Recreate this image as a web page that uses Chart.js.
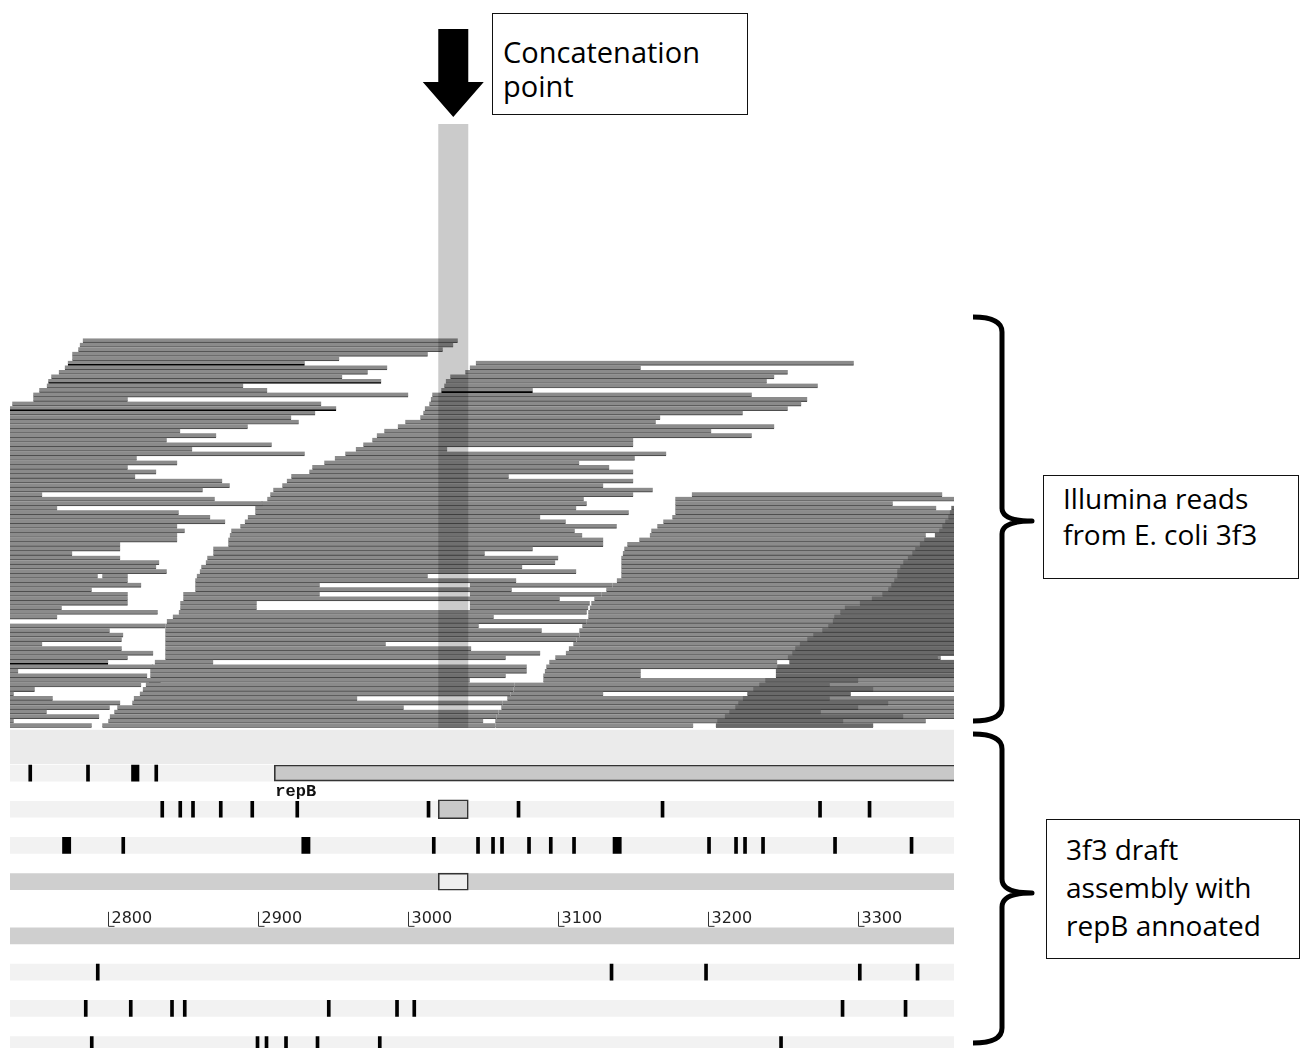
<!DOCTYPE html>
<html>
<head>
<meta charset="utf-8">
<title>repB region – read pileup and draft assembly</title>
<script src="https://cdn.jsdelivr.net/npm/chart.js@4.4.1/dist/chart.umd.min.js"></script>
<style>
  html, body { margin: 0; padding: 0; background: #fff; width: 1305px; height: 1048px; overflow: hidden; }
  #stage { position: relative; width: 1305px; height: 1048px; overflow: hidden; }
  #stage canvas { position: absolute; left: 0; top: 0; }
  #stage svg { position: absolute; left: 0; top: 0; }
  .note {
    position: absolute; box-sizing: border-box; background: #fff;
    border: 1px solid #111; color: #000; white-space: nowrap;
    font-family: "Open Sans", "DejaVu Sans", sans-serif; font-size: 29px; line-height: 33.5px;
    padding-left: 10px;
  }
  .note.side { font-size: 28px; padding-left: 19px; }
</style>
</head>
<body>
<div id="stage">
  <canvas id="view" width="1305" height="1062"></canvas>
  <svg width="1305" height="1048" viewBox="0 0 1305 1048">
    <path d="M 973 317 Q 1002 317 1002 332 L 1002 508 Q 1002 521 1032 521 Q 1002 521 1002 534 L 1002 706 Q 1002 721 973 721"
          fill="none" stroke="#000" stroke-width="5" stroke-linejoin="round"/>
    <path d="M 973 734 Q 1002 734 1002 749 L 1002 879 Q 1002 893 1032 893 Q 1002 893 1002 907 L 1002 1028 Q 1002 1043 973 1043"
          fill="none" stroke="#000" stroke-width="5" stroke-linejoin="round"/>
  </svg>
  <div class="note" style="left:492px; top:13px; width:256px; height:102px; padding-top:21px;">Concatenation<br>point</div>
  <div class="note side" style="left:1043px; top:475px; width:256px; height:104px; padding-top:4px; line-height:36px;">Illumina reads<br>from E. coli 3f3</div>
  <div class="note side" style="left:1046px; top:819px; width:254px; height:140px; padding-top:10px; line-height:38px;">3f3 draft<br>assembly with<br>repB annoated</div>
</div>

<script>
// ---- coordinates (bp) ------------------------------------------------------
const viewRange = [2734.5, 3363.8];
const rulerTicks = [2800, 2900, 3000, 3100, 3200, 3300];
const concatRegion = [3020, 3040];

// ---- read pileup: one [start, end] per packed row (null = empty) ---------
const readsA = [
  [2783,3033],[2781,3030],[2780,3023],[2776,3013],[2776,2954],
  null,[2771,2986],[2767,2973],[2762,2956],null,
  [2759,2890],[2754,2906],[2750,3000],[2750,2813],[2736,2942],
  null,[2700,2938],[2700,2922],[2700,2927],[2700,2893],
  [2700,2848],[2700,2872],[2700,2839],[2700,2909],[2700,2856],
  [2700,2931],[2700,2819],[2700,2846],[2700,2813],[2700,2832],
  [2700,2818],[2700,2876],[2700,2881],[2700,2863],[2700,2756],
  [2700,2871],[2700,2903],[2700,2766],[2700,2847],[2700,2868],
  [2700,2878],[2700,2846],[2700,2851],[2700,2846],[2700,2846],
  [2700,2808],[2700,2808],[2700,2776],[2700,2808],[2700,2834],
  [2700,2832],[2700,2839],[2700,2793],[2700,2813],[2700,2822],
  [2700,2789],[2700,2813],[2700,2813],[2700,2813],[2700,2769],
  [2700,2833],[2700,2766],null,[2700,2838],[2700,2801],
  [2700,2810],[2700,2809],[2700,2756],[2700,2809],[2700,2830],
  [2700,2813],null,[2700,2830],[2700,2740],[2700,2826],
  [2700,2835],[2700,2822],[2700,2751],[2700,2737],[2700,2763],
  [2700,2808],[2700,2801],[2700,2759],[2700,2794],[2700,2737],
  [2700,2789]
];

const readsB = [
  null,null,null,null,null,
  [3045,3297],[3041,3155],[3038,3253],[3028,3244],[3025,3239],
  [3024,3273],null,[3016,3229],[3015,3266],[3014,3262],
  [3011,3253],[3010,3223],[3008,3168],[2998,3165],[2993,3244],
  [2984,3202],[2979,3229],[2976,3150],[2970,3150],[2965,3026],
  [2958,3172],[2951,3151],[2944,3114],[2936,3134],[2934,3150],
  [2922,3067],[2919,3150],[2916,3130],[2910,3163],[2908,3150],
  [2906,3117],[2902,3119],[2898,3112],[2898,3147],[2893,3088],
  [2891,3105],[2888,3139],[2882,3111],[2881,3116],[2880,3130],
  [2880,3130],[2870,3083],[2870,3051],[2866,3100],[2865,3098],
  [2862,3076],[2861,3112],[2859,3013],[2858,3072],[2858,2941],
  [2858,3069],[2850,2941],[2850,3101],[2848,2899],[2848,2899],
  [2847,3119],[2843,3057],[2839,3119],[2838,3047],[2838,3089],
  [2838,3114],[2838,3112],[2838,2985],[2838,3042],[2838,3088],
  [2838,3065],[2831,2870],[2829,3079],[2828,3079],[2828,3065],
  [2827,3041],[2825,3071],[2823,3070],[2821,3068],[2817,2966],
  [2816,3063],[2806,2997],[2804,3060],[2801,3059],[2800,3050],
  [2796,3058]
];

const readsC = [
  null,null,null,null,null,null,null,null,null,null,
  null,null,null,null,null,null,null,null,null,null,
  null,null,null,null,null,null,null,null,null,null,
  null,null,null,null,
  [3189,3356],[3178,3380],[3178,3323],[3178,3352],[3178,3380],
  [3176,3380],[3170,3380],[3166,3380],[3162,3380],[3161,3345],
  [3154,3380],[3146,3380],[3144,3380],[3143,3380],[3142,3380],
  [3142,3380],[3142,3380],[3142,3380],[3142,3380],[3139,3380],
  [3136,3380],[3132,3380],[3129,3380],[3124,3380],[3122,3380],
  [3121,3380],[3120,3380],[3120,3380],[3119,3380],[3116,3380],
  [3114,3380],[3114,3380],[3112,3380],[3110,3380],[3107,3380],
  [3105,3380],[3098,3355],[3094,3246],[3092,3380],[3091,3155],
  [3090,3155],[3090,3380],[3071,3380],[3070,3380],[3068,3130],
  [3066,3380],[3063,3380],[3062,3380],[3060,3380],[3059,3380],
  [3058,3345],[3058,3190]
];

// darker, overlapping reads at the right-hand end
const readsD = [
  null,null,null,null,null,null,null,null,null,null,
  null,null,null,null,null,null,null,null,null,null,
  null,null,null,null,null,null,null,null,null,null,
  null,null,null,null,null,null,null,
  [3362,3380],[3361,3380],[3360,3380],
  [3358,3380],[3356,3380],[3354,3380],[3351,3380],[3344,3380],
  [3341,3380],[3338,3380],[3336,3380],[3333,3380],[3330,3380],
  [3328,3380],[3326,3380],[3326,3380],[3324,3380],[3322,3380],
  [3320,3380],[3316,3380],[3309,3380],[3301,3380],[3291,3380],
  [3288,3380],[3284,3380],[3283,3380],[3280,3380],[3276,3380],
  [3270,3380],[3266,3380],[3261,3380],[3258,3380],[3256,3380],
  [3253,3353],[3254,3380],[3246,3380],[3245,3380],[3245,3380],
  [3238,3300],[3234,3281],[3230,3310],[3226,3295],[3223,3281],
  [3220,3320],[3218,3300],[3214,3275],[3211,3330],[3206,3290],
  [3205,3310]
];

// second reads packed into an already used row: [row, start, end]
const extraReads = [[52, 2796, 2813], [54, 3041, 3136], [56, 3041, 3129], [58, 3041, 3121], [59, 3041, 3120]];
// reads drawn with a black edge: [row, start, end]
const outlinedReads = [[5, 2773, 2931], [9, 2760, 2982], [11, 3022, 3083], [15, 2700, 2952], [71, 2700, 2800]];

// ---- assembly tracks -------------------------------------------------------
const trackSlots = ['header', 'header2', 'frame+1', 'frame+1 label', 'frame+2', 'gapA',
  'frame+3', 'gapB', 'sequence', 'gapC', 'ruler', 'complement', 'gapD',
  'frame-1', 'gapE', 'frame-2', 'gapF', 'frame-3'];
const frameTracks = ['frame+1', 'frame+2', 'frame+3', 'frame-1', 'frame-2', 'frame-3'];
const sequenceTracks = ['sequence', 'complement'];

const geneName = 'repB';
const geneSpan = [2910.7, 3380];

const stopsFrame1 = [[2747,2749],[2785.5,2787.5],[2815.5,2820.5],[2831,2833]];
const stopsFrame2 = [[2835,2837],[2847,2849],[2855.5,2857.5],[2874,2876],[2895,2897],[2925,2927],
  [3012.5,3014.5],[3072.5,3074.5],[3168.5,3170.5],[3273.5,3275.5],[3306.5,3308.5]];
const stopsFrame3 = [[2769.5,2775],[2809,2811],[2929,2934.5],[3016,3018],[3045.5,3047.5],[3055.5,3057.5],
  [3061.5,3063.5],[3079.5,3081.5],[3094,3096],[3109.5,3111.5],[3136.5,3142],[3199.5,3201.5],
  [3217.5,3219.5],[3223.5,3225.5],[3235.5,3237.5],[3283.5,3285.5],[3334.5,3336.5]];
const stopsFrameM1 = [[2792,2794],[3134.5,3136.5],[3197.5,3199.5],[3300,3302],[3338.5,3340.5]];
const stopsFrameM2 = [[2784,2786],[2814,2816],[2841.5,2843.5],[2850,2852],[2946,2948],[2991.5,2993.5],
  [3003,3005],[3288.5,3290.5],[3330.5,3332.5]];
const stopsFrameM3 = [[2788,2790],[2898.5,2900.5],[2904.5,2906.5],[2917.5,2919.5],[2938.5,2940.5],
  [2980,2982],[3247.5,3249.5]];

// ---- helpers ---------------------------------------------------------------
const rowLabels = readsA.map((_, i) => String(i));
const rowList = list => list.map(([r, s, e]) => ({ y: String(r), x: [s, e] }));
const onSlot = (slot, spans) => spans.map(s => ({ y: slot, x: s }));

const readBase = {
  xAxisID: 'x', yAxisID: 'yReads', grouped: false, clip: 0,
  categoryPercentage: 1, barPercentage: 1,
  borderSkipped: false, borderWidth: { top: 0, right: 0, bottom: 1.2, left: 0 }
};
const greyRead = Object.assign({}, readBase, { backgroundColor: '#8b8b8b', borderColor: '#4e4e4e', order: 8 });
const trackBase = { xAxisID: 'x', yAxisID: 'yTracks', grouped: false, clip: 0, borderSkipped: false };

const datasets = [
  Object.assign({}, trackBase, {
    label: 'frame lanes', order: 20, barThickness: 16, backgroundColor: '#f2f2f2', borderWidth: 0,
    data: frameTracks.map(t => ({ y: t, x: viewRange }))
  }),
  Object.assign({}, trackBase, {
    label: 'sequence', order: 19, barThickness: 16, backgroundColor: '#cfcfcf', borderWidth: 0,
    data: sequenceTracks.map(t => ({ y: t, x: viewRange }))
  }),
  Object.assign({}, greyRead, { label: 'reads 1', data: readsA }),
  Object.assign({}, greyRead, { label: 'reads 2', data: readsB }),
  Object.assign({}, greyRead, { label: 'reads 3', data: readsC }),
  Object.assign({}, greyRead, { label: 'reads packed', data: rowList(extraReads) }),
  Object.assign({}, readBase, { label: 'reads 4', order: 7, backgroundColor: '#696969', borderColor: '#3e3e3e', data: readsD }),
  Object.assign({}, readBase, {
    label: 'reads edged', order: 6, backgroundColor: '#8b8b8b', borderColor: '#000',
    borderWidth: { top: 0, right: 0, bottom: 1.6, left: 0 }, data: rowList(outlinedReads)
  }),
  Object.assign({}, trackBase, {
    label: 'stop codons', order: 5, barThickness: 16, backgroundColor: '#000', borderWidth: 0,
    data: [].concat(
      onSlot('frame+1', stopsFrame1), onSlot('frame+2', stopsFrame2), onSlot('frame+3', stopsFrame3),
      onSlot('frame-1', stopsFrameM1), onSlot('frame-2', stopsFrameM2), onSlot('frame-3', stopsFrameM3))
  }),
  Object.assign({}, trackBase, {
    label: geneName, order: 4, barThickness: 16, backgroundColor: '#c8c8c8', borderColor: '#333', borderWidth: 1.6,
    data: [{ y: 'frame+1', x: geneSpan }]
  }),
  Object.assign({}, trackBase, {
    label: 'selection', order: 3, barThickness: 19, backgroundColor: '#c8c8c8', borderColor: '#333', borderWidth: 1.6,
    data: [{ y: 'frame+2', x: concatRegion }]
  }),
  Object.assign({}, trackBase, {
    label: 'selection seq', order: 3, barThickness: 17, backgroundColor: '#eeeeee', borderColor: '#333', borderWidth: 1.6,
    data: [{ y: 'sequence', x: concatRegion }]
  })
];

// header band, highlighted column, ruler, gene label and the arrow
const decorations = {
  id: 'decorations',
  beforeDatasetsDraw(chart) {
    const { ctx, scales } = chart;
    const x = scales.x, reads = scales.yReads, tracks = scales.yTracks;
    const top = reads.bottom + 2;
    const bottom = tracks.getPixelForValue(trackSlots.indexOf('frame+1')) - 9;
    ctx.save();
    ctx.fillStyle = '#ebebeb';
    ctx.fillRect(x.left, top, x.right - x.left, bottom - top);
    ctx.restore();
  },
  afterDatasetsDraw(chart) {
    const { ctx, scales } = chart;
    const x = scales.x, reads = scales.yReads, tracks = scales.yTracks;
    const x0 = x.getPixelForValue(concatRegion[0]);
    const x1 = x.getPixelForValue(concatRegion[1]);

    // concatenation column
    ctx.save();
    ctx.globalCompositeOperation = 'multiply';
    ctx.fillStyle = '#cbcbcb';
    ctx.fillRect(x0, 124, x1 - x0, reads.bottom - 124);
    ctx.restore();

    // ruler with bracket ticks
    const yr = tracks.getPixelForValue(trackSlots.indexOf('ruler'));
    ctx.save();
    ctx.strokeStyle = '#333';
    ctx.fillStyle = '#222';
    ctx.lineWidth = 1;
    ctx.font = '16px "DejaVu Sans"';
    ctx.textBaseline = 'alphabetic';
    ctx.textAlign = 'left';
    rulerTicks.forEach(v => {
      const px = Math.round(x.getPixelForValue(v)) + 0.5;
      ctx.beginPath();
      ctx.moveTo(px, yr - 6);
      ctx.lineTo(px, yr + 8.5);
      ctx.lineTo(px + 6, yr + 8.5);
      ctx.stroke();
      ctx.fillText(String(v), px + 3, yr + 5.5);
    });
    ctx.restore();

    // gene name under its box
    const yl = tracks.getPixelForValue(trackSlots.indexOf('frame+1 label'));
    ctx.save();
    ctx.fillStyle = '#111';
    ctx.font = 'bold 17px "Liberation Mono"';
    ctx.textBaseline = 'middle';
    ctx.textAlign = 'left';
    ctx.fillText(geneName, x.getPixelForValue(geneSpan[0]) + 1, yl + 1);
    ctx.restore();

    // arrow pointing at the column
    const cx = (x0 + x1) / 2;
    ctx.save();
    ctx.fillStyle = '#000';
    ctx.beginPath();
    ctx.moveTo(cx - 15, 29);
    ctx.lineTo(cx + 15, 29);
    ctx.lineTo(cx + 15, 82);
    ctx.lineTo(cx + 30.5, 82);
    ctx.lineTo(cx, 117);
    ctx.lineTo(cx - 30.5, 82);
    ctx.lineTo(cx - 15, 82);
    ctx.closePath();
    ctx.fill();
    ctx.restore();
  }
};

new Chart(document.getElementById('view'), {
  type: 'bar',
  data: { datasets },
  options: {
    indexAxis: 'y',
    responsive: false,
    animation: false,
    devicePixelRatio: 1,
    events: [],
    layout: { padding: { top: 338.2, left: 10, right: 351, bottom: 8.4 } },
    plugins: { legend: { display: false }, tooltip: { enabled: false } },
    scales: {
      x: { type: 'linear', axis: 'x', min: viewRange[0], max: viewRange[1], display: false },
      yReads: {
        type: 'category', axis: 'y', position: 'left', labels: rowLabels, offset: true,
        stack: 'lanes', stackWeight: 389.6, weight: 2, display: false
      },
      yTracks: {
        type: 'category', axis: 'y', position: 'left', labels: trackSlots, offset: true,
        stack: 'lanes', stackWeight: 325.8, weight: 1, display: false
      }
    }
  },
  plugins: [decorations]
});
</script>
</body>
</html>
